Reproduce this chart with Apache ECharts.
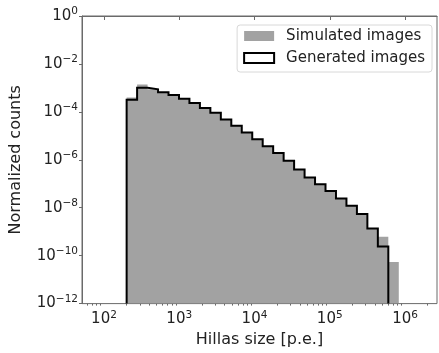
<!DOCTYPE html>
<html>
<head>
<meta charset="utf-8">
<script src="https://cdn.jsdelivr.net/npm/echarts@6/dist/echarts.min.js"></script>
<style>
html,body{margin:0;padding:0;background:#fff;}
#chart{width:439px;height:353px;}
</style>
</head>
<body>
<div id="chart"></div>
<script>
// ---- data ----
const binEdges = [200, 275.5, 379.6, 522.8, 720.2, 992, 1366, 1882, 2592, 3570, 4918, 6774, 9333, 12853, 17705, 24390, 33600, 46290, 63750, 87820, 120950, 166650, 229570, 316080, 435500, 600000, 826400];
const simulatedCounts = [4.0e-4, 1.39e-3, 8.7e-4, 6.55e-4, 5.08e-4, 3.49e-4, 2.33e-4, 1.46e-4, 9.1e-5, 4.85e-5, 2.61e-5, 1.39e-5, 7.2e-6, 3.72e-6, 1.93e-6, 9.1e-7, 3.91e-7, 1.84e-7, 9.5e-8, 4.94e-8, 2.44e-8, 1.21e-8, 5.5e-9, 1.35e-9, 6.1e-10, 5.5e-11];
const generatedCounts = [3.18e-4, 1.02e-3, 8.7e-4, 6.55e-4, 5.08e-4, 3.49e-4, 2.33e-4, 1.46e-4, 9.1e-5, 4.85e-5, 2.61e-5, 1.39e-5, 7.2e-6, 3.72e-6, 1.93e-6, 9.1e-7, 3.91e-7, 1.84e-7, 9.5e-8, 4.94e-8, 2.44e-8, 1.21e-8, 5.5e-9, 1.35e-9, 2.4e-10];
const xTickExponents = [2, 3, 4, 5, 6];
const yTickExponents = [-12, -10, -8, -6, -4, -2, 0];
const seriesNames = ['Simulated images', 'Generated images'];
const xTitle = 'Hillas size [p.e.]';
const yTitle = 'Normalized counts';

// ---- build ----
const L = Math.log10;
const xMin = 1.708, xMax = 6.425, yMin = -12, yMax = 0;

function stepPoints(edges, counts, closeEnds) {
  const pts = [];
  if (closeEnds) pts.push([L(edges[0]), yMin]);
  for (let i = 0; i < counts.length; i++) {
    pts.push([L(edges[i]), L(counts[i])]);
    pts.push([L(edges[i + 1]), L(counts[i])]);
  }
  if (closeEnds) pts.push([L(edges[counts.length]), yMin]);
  return pts;
}

const minorX = [];
for (let n = 1; n <= 6; n++) {
  for (let k = 2; k <= 9; k++) {
    const v = n + L(k);
    if (v > xMin && v < xMax) minorX.push(v);
  }
}

const FONT = 'DejaVu Sans';
const sup = (e) => '{b|10}{s|' + (e < 0 ? '\u2212' + (-e) : e) + '}';
const rich = {
  b: { fontFamily: FONT, fontSize: 15, color: '#222' },
  s: { fontFamily: FONT, fontSize: 10.5, color: '#222', padding: [0, 0, 9, 0] }
};
const axisColor = '#6a6a6a';

const chart = echarts.init(document.getElementById('chart'), null, { renderer: 'canvas' });
chart.setOption({
  animation: false,
  backgroundColor: '#fff',
  grid: { left: 82, top: 16, right: 2, bottom: 43, show: true, borderColor: axisColor, borderWidth: 1, backgroundColor: 'transparent' },
  legend: {
    orient: 'vertical',
    right: 7, top: 25,
    padding: [2, 7, 5, 6],
    itemGap: 4,
    itemWidth: 30, itemHeight: 10,
    backgroundColor: '#fff',
    borderColor: '#d8d8d8', borderWidth: 1, borderRadius: 3,
    textStyle: { fontFamily: FONT, fontSize: 15, color: '#222', lineHeight: 18, padding: [0, 0, 0, 7] },
    data: [
      { name: seriesNames[0], icon: 'rect', itemStyle: { color: '#a2a2a2', borderWidth: 0 } },
      { name: seriesNames[1], icon: 'rect', itemStyle: { color: '#fff', borderColor: '#000', borderWidth: 2 } }
    ]
  },
  xAxis: [{
    type: 'value', min: xMin, max: xMax,
    name: xTitle, nameLocation: 'middle', nameGap: 27,
    nameTextStyle: { fontFamily: FONT, fontSize: 16, color: '#222' },
    axisLine: { show: true, lineStyle: { color: axisColor, width: 1 } },
    axisTick: { show: true, customValues: xTickExponents, length: 4, inside: false, lineStyle: { color: axisColor } },
    axisLabel: { customValues: xTickExponents, margin: 6, formatter: (v) => sup(Math.round(v)), rich: rich },
    splitLine: { show: false }
  }, {
    type: 'value', min: xMin, max: xMax, position: 'bottom',
    axisLine: { show: false },
    axisTick: { show: true, customValues: minorX, length: 2, lineStyle: { color: axisColor } },
    axisLabel: { show: false },
    splitLine: { show: false }
  }],
  yAxis: {
    type: 'value', min: yMin, max: yMax, interval: 2,
    name: yTitle, nameLocation: 'middle', nameGap: 58, nameRotate: 90,
    nameTextStyle: { fontFamily: FONT, fontSize: 16, color: '#222' },
    axisLine: { show: true, lineStyle: { color: axisColor, width: 1 } },
    axisTick: { show: true, length: 3, lineStyle: { color: axisColor } },
    axisLabel: { margin: 4, formatter: (v) => sup(Math.round(v)), rich: rich },
    splitLine: { show: false }
  },
  series: [{
    name: seriesNames[0],
    type: 'line',
    data: stepPoints(binEdges, simulatedCounts, true),
    symbol: 'none',
    lineStyle: { width: 0, color: '#a2a2a2' },
    itemStyle: { color: '#a2a2a2' },
    areaStyle: { color: '#a2a2a2', opacity: 1, origin: 'start' },
    z: 1
  }, {
    name: seriesNames[1],
    type: 'line',
    data: stepPoints(binEdges, generatedCounts, true),
    symbol: 'none',
    lineStyle: { width: 2, color: '#000', join: 'miter', cap: 'butt' },
    itemStyle: { color: '#000' },
    z: 2
  }]
});
</script>
</body>
</html>
